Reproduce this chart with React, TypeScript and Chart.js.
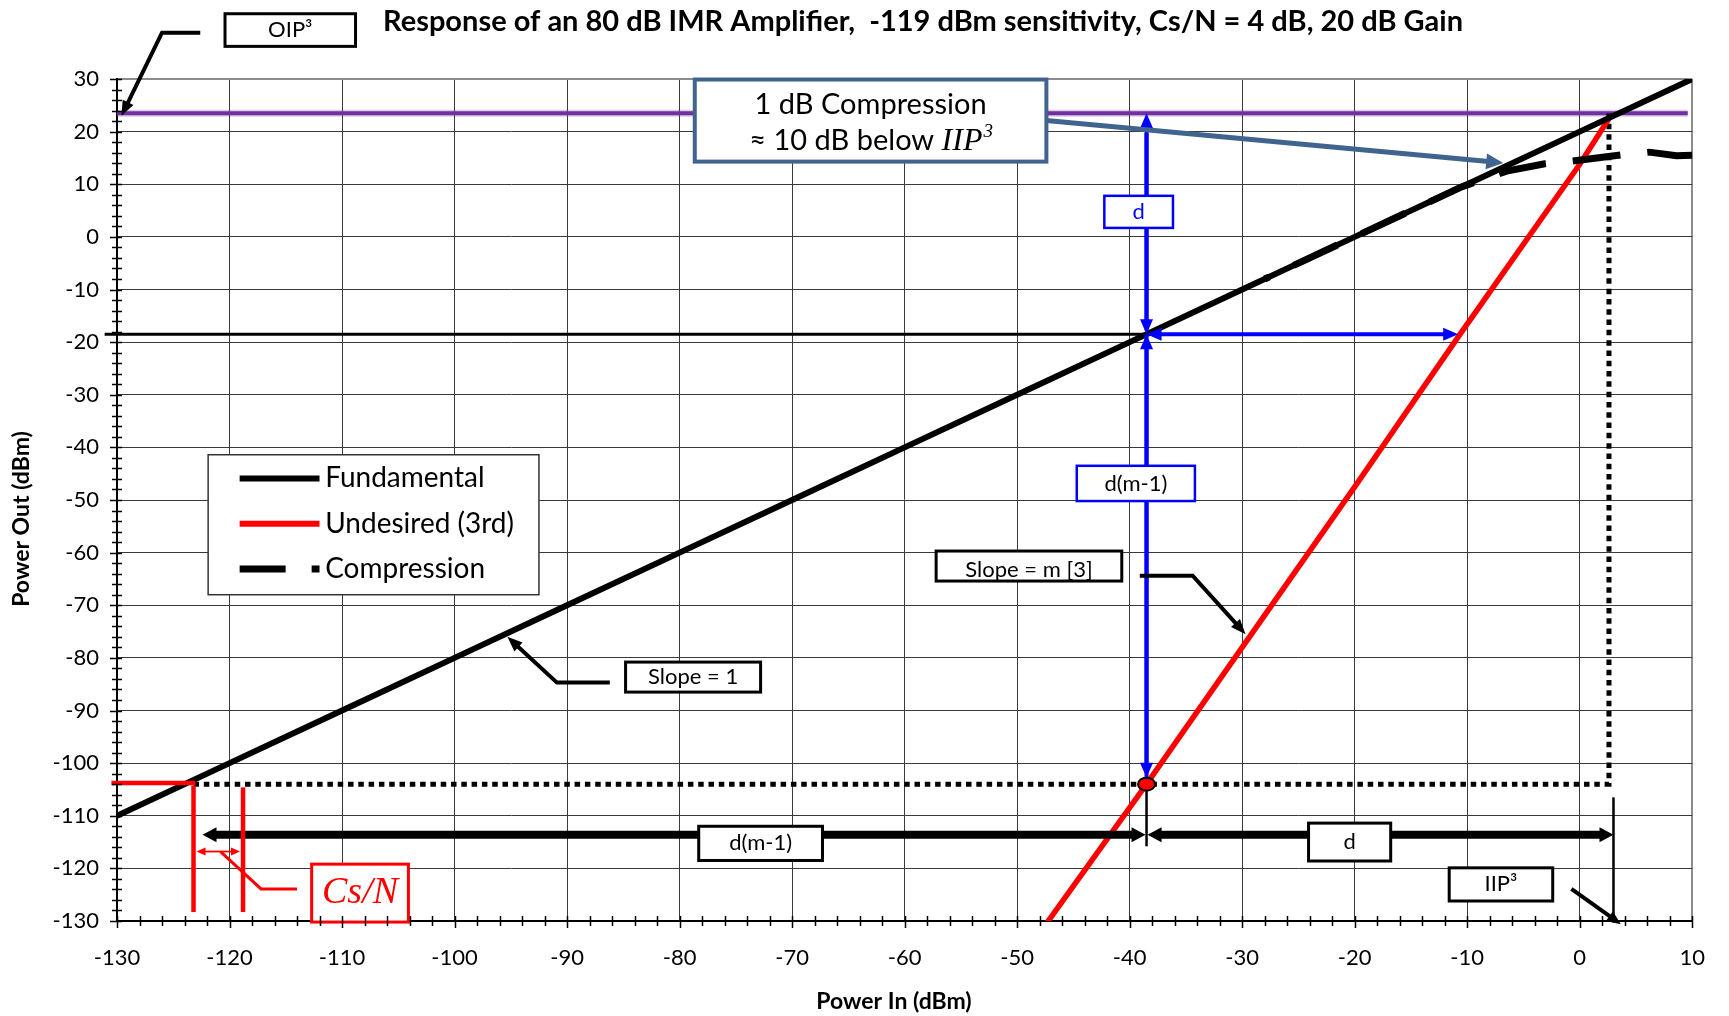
import React, { useEffect, useRef } from "react";
import { Chart, registerables } from "chart.js";

Chart.register(...registerables);

const SANS = "Lato, 'Open Sans', 'Noto Sans', sans-serif";
const SERIF = "'Liberation Serif', 'DejaVu Serif', serif";

// Axis tick values
const X_TICKS = [-130, -120, -110, -100, -90, -80, -70, -60, -50, -40, -30, -20, -10, 0, 10];
const Y_TICKS = [-130, -120, -110, -100, -90, -80, -70, -60, -50, -40, -30, -20, -10, 0, 10, 20, 30];

// Fundamental (slope 1, 20 dB gain)
const fundamentalIn = [-130, -120, -110, -100, -90, -80, -70, -60, -50, -40, -30, -20, -10, 0, 10];
const fundamentalOut = [-110, -100, -90, -80, -70, -60, -50, -40, -30, -20, -10, 0, 10, 20, 30];

// Undesired 3rd-order product
const undesiredIn = [-47.4, -38.5, -30, -20, -10.8, 0, 2.6];
const undesiredOut = [-130.5, -104, -78, -47.5, -19, 13.8, 22.5];

// Compression curve
const compressionIn = [-28, -20, -15, -10.5, -6.5, -3.1, -0.75, 3.8, 6.2, 8.6, 10];
const compressionOut = [-8, 0, 5, 9.5, 12.5, 13.9, 14.4, 15.6, 16.1, 15.4, 15.5];

// Reference levels
const OIP3_OUT = 23.5;
const IIP3_IN = 2.6;
const SENS_IN = -38.5;
const SENS_OUT = -104;
const FUND_REF_OUT = -18.5;
const NOISE_IN = -123.2;
const SENS_MIN_IN = -118.8;
const DIM_ROW = -113.6;

const TITLE = "Response of an 80 dB IMR Amplifier,  -119 dBm sensitivity, Cs/N = 4 dB, 20 dB Gain";

type Ctx = CanvasRenderingContext2D;

function head(ctx: Ctx, fx: number, fy: number, tx: number, ty: number, len: number, half: number, color: string) {
  const a = Math.atan2(ty - fy, tx - fx);
  const bx = tx - len * Math.cos(a);
  const by = ty - len * Math.sin(a);
  ctx.beginPath();
  ctx.moveTo(tx, ty);
  ctx.lineTo(bx + half * Math.sin(a), by - half * Math.cos(a));
  ctx.lineTo(bx - half * Math.sin(a), by + half * Math.cos(a));
  ctx.closePath();
  ctx.fillStyle = color;
  ctx.fill();
}

function poly(ctx: Ctx, pts: number[][], color: string, width: number, dash: number[] = [], cap: CanvasLineCap = "butt") {
  ctx.save();
  ctx.beginPath();
  pts.forEach((p, i) => (i ? ctx.lineTo(p[0], p[1]) : ctx.moveTo(p[0], p[1])));
  ctx.strokeStyle = color;
  ctx.lineWidth = width;
  ctx.setLineDash(dash);
  ctx.lineCap = cap;
  ctx.lineJoin = "miter";
  ctx.stroke();
  ctx.restore();
}

// polyline ending in an arrow head; the stroke stops short of the tip
function arrow(ctx: Ctx, pts: number[][], color: string, width: number, len: number, half: number, both = false) {
  const p = pts.map((q) => [...q]);
  const n = p.length;
  const [ax, ay] = p[n - 2];
  const [tx, ty] = p[n - 1];
  const d = Math.hypot(tx - ax, ty - ay);
  p[n - 1] = [tx - ((tx - ax) / d) * len * 0.7, ty - ((ty - ay) / d) * len * 0.7];
  let s0: number[] | null = null;
  if (both) {
    const [sx, sy] = p[0];
    const [nx, ny] = p[1];
    const d2 = Math.hypot(nx - sx, ny - sy);
    s0 = [sx, sy];
    p[0] = [sx + ((nx - sx) / d2) * len * 0.7, sy + ((ny - sy) / d2) * len * 0.7];
  }
  poly(ctx, p, color, width);
  head(ctx, ax, ay, tx, ty, len, half, color);
  if (both && s0) head(ctx, pts[1][0], pts[1][1], s0[0], s0[1], len, half, color);
}

function rect(ctx: Ctx, x1: number, y1: number, x2: number, y2: number, stroke: string, width: number) {
  ctx.save();
  ctx.fillStyle = "#ffffff";
  ctx.fillRect(Math.min(x1, x2), Math.min(y1, y2), Math.abs(x2 - x1), Math.abs(y2 - y1));
  ctx.strokeStyle = stroke;
  ctx.lineWidth = width;
  ctx.strokeRect(Math.min(x1, x2), Math.min(y1, y2), Math.abs(x2 - x1), Math.abs(y2 - y1));
  ctx.restore();
}

function text(ctx: Ctx, s: string, x: number, y: number, font: string, color: string, align: CanvasTextAlign = "center") {
  ctx.save();
  ctx.font = font;
  ctx.fillStyle = color;
  ctx.textAlign = align;
  ctx.textBaseline = "middle";
  ctx.fillText(s, x, y);
  ctx.restore();
}

// Labelled boxes, corners in data units
const labelBoxes = [
  { label: "OIP³", x1: -120.4, x2: -108.8, y1: 42.4, y2: 36.2, ty: 39.3, border: "#000000", ink: "#000000" },
  { label: "d", x1: -42.25, x2: -36.15, y1: 7.8, y2: 1.7, ty: 4.75, border: "#0000ff", ink: "#0000ff" },
  { label: "d(m-1)", x1: -44.7, x2: -34.2, y1: -43.5, y2: -50.2, ty: -46.9, border: "#0000ff", ink: "#000000" },
  { label: "Slope = m [3]", x1: -57.2, x2: -40.7, y1: -59.7, y2: -65.4, ty: -63.3, border: "#000000", ink: "#000000" },
  { label: "Slope = 1", x1: -84.8, x2: -72.8, y1: -80.8, y2: -86.5, ty: -83.6, border: "#000000", ink: "#000000" },
  { label: "d(m-1)", x1: -78.3, x2: -67.3, y1: -112.0, y2: -118.5, ty: -115.2, border: "#000000", ink: "#000000" },
  { label: "d", x1: -24.1, x2: -16.8, y1: -111.4, y2: -118.6, ty: -115.0, border: "#000000", ink: "#000000" },
  { label: "IIP³", x1: -11.6, x2: -2.4, y1: -119.9, y2: -126.2, ty: -123.0, border: "#000000", ink: "#000000" },
];

const imrPlugin = {
  id: "imrAnnotations",
  beforeDatasetsDraw(chart: any) {
    const { ctx } = chart;
    const X = (v: number) => chart.scales.x.getPixelForValue(v);
    const Y = (v: number) => chart.scales.y.getPixelForValue(v);

    // OIP3 level
    poly(ctx, [[X(-130), Y(OIP3_OUT)], [X(9.6), Y(OIP3_OUT)]], "rgba(112,48,160,0.25)", 7);
    poly(ctx, [[X(-130), Y(OIP3_OUT)], [X(9.6), Y(OIP3_OUT)]], "#7030a0", 4);

    // fundamental reference level
    poly(ctx, [[X(-131.1), Y(FUND_REF_OUT)], [X(SENS_IN), Y(FUND_REF_OUT)]], "#000000", 3);

    // sensitivity level and IIP3 drop line (dotted)
    poly(ctx, [[X(NOISE_IN), Y(SENS_OUT)], [X(IIP3_IN), Y(SENS_OUT)], [X(IIP3_IN), Y(OIP3_OUT)]], "#000000", 5, [5.5, 4.8]);

    // legend
    const lx1 = X(-121.9), lx2 = X(-92.5), ly1 = Y(-41.4), ly2 = Y(-68.0);
    ctx.save();
    ctx.fillStyle = "#fff";
    ctx.fillRect(lx1, ly1, lx2 - lx1, ly2 - ly1);
    ctx.strokeStyle = "#333";
    ctx.lineWidth = 1.5;
    ctx.strokeRect(lx1, ly1, lx2 - lx1, ly2 - ly1);
    ctx.restore();
    const rows = [-45.9, -54.5, -63.1];
    chart.data.datasets.forEach((ds: any, i: number) => {
      const ry = Y(rows[i]);
      poly(ctx, [[X(-119.1), ry], [X(-112.0), ry]], ds.borderColor, i === 2 ? 7 : 6, ds.borderDash ? [46, 26] : []);
      text(ctx, ds.label, X(-111.5), ry, `28px ${SANS}`, "#000", "left");
    });
  },
  afterDatasetsDraw(chart: any) {
    const { ctx } = chart;
    const X = (v: number) => chart.scales.x.getPixelForValue(v);
    const Y = (v: number) => chart.scales.y.getPixelForValue(v);
    const blue = "#0000ff";

    // d / d(m-1) construction in blue
    arrow(ctx, [[X(SENS_IN), Y(FUND_REF_OUT) - 4], [X(SENS_IN), Y(OIP3_OUT)]], blue, 4, 15, 6.5);
    arrow(ctx, [[X(SENS_IN), Y(OIP3_OUT) + 20], [X(SENS_IN), Y(FUND_REF_OUT)]], blue, 4, 15, 6.5);
    arrow(ctx, [[X(SENS_IN), Y(SENS_OUT)], [X(SENS_IN), Y(FUND_REF_OUT)]], blue, 4, 15, 6.5);
    arrow(ctx, [[X(SENS_IN), Y(FUND_REF_OUT)], [X(SENS_IN), Y(-102.8)]], blue, 4, 15, 6.5);
    arrow(ctx, [[X(SENS_IN), Y(FUND_REF_OUT)], [X(-10.8), Y(FUND_REF_OUT)]], blue, 4, 15, 6.5, true);

    // dimension row
    poly(ctx, [[X(SENS_IN), Y(-105.2)], [X(SENS_IN), Y(-115.8)]], "#000", 2.5);
    poly(ctx, [[X(3.0), Y(-106.5)], [X(3.0), Y(-130.3)]], "#000", 2.5);
    arrow(ctx, [[X(-122.4), Y(DIM_ROW)], [X(SENS_IN) - 1, Y(DIM_ROW)]], "#000", 8, 14, 7.5, true);
    arrow(ctx, [[X(SENS_IN) + 1, Y(DIM_ROW)], [X(3.0), Y(DIM_ROW)]], "#000", 8, 14, 7.5, true);

    // carrier-to-noise markers
    const red = "#ff0000";
    poly(ctx, [[X(-130.5), Y(-103.8)], [X(NOISE_IN) + 2, Y(-103.8)]], red, 4.5);
    poly(ctx, [[X(NOISE_IN), Y(-104.3)], [X(NOISE_IN), Y(-128.3)]], red, 4.5);
    poly(ctx, [[X(SENS_MIN_IN), Y(-104.6)], [X(SENS_MIN_IN), Y(-128.3)]], red, 4.5);
    arrow(ctx, [[X(NOISE_IN) + 3, Y(-116.8)], [X(SENS_MIN_IN) - 3, Y(-116.8)]], red, 1.8, 9, 4, true);
    poly(ctx, [[X(-120.8), Y(-116.8)], [X(-117.2), Y(-123.9)], [X(-114.0), Y(-123.9)]], red, 3);
    rect(ctx, X(-112.7), Y(-119.2), X(-104.1), Y(-130.2), red, 3);
    text(ctx, "Cs/N", (X(-112.7) + X(-104.1)) / 2, Y(-124.6), `italic 38px ${SERIF}`, red);

    // sensitivity point
    ctx.save();
    ctx.beginPath();
    ctx.ellipse(X(SENS_IN), Y(SENS_OUT), 8.5, 6.5, 0, 0, Math.PI * 2);
    ctx.fillStyle = "#ff0000";
    ctx.fill();
    ctx.strokeStyle = "#000";
    ctx.lineWidth = 2;
    ctx.stroke();
    ctx.restore();

    // leaders
    arrow(ctx, [[X(-122.6), Y(38.8)], [X(-126.0), Y(38.8)], [X(-129.6), Y(23.0)]], "#000", 4, 15, 6);
    arrow(ctx, [[X(-86.2), Y(-84.7)], [X(-90.9), Y(-84.7)], [X(-95.3), Y(-76.0)]], "#000", 4, 15, 6);
    arrow(ctx, [[X(-39.1), Y(-64.4)], [X(-34.4), Y(-64.4)], [X(-29.7), Y(-75.5)]], "#000", 4, 15, 6);
    arrow(ctx, [[X(-0.74), Y(-123.9)], [X(3.65), Y(-130.6)]], "#000", 4, 14, 6);
    arrow(ctx, [[X(-47.4), Y(22.1)], [X(-6.8), Y(14.05)]], "#41648f", 5, 17, 8);

    // labelled boxes
    labelBoxes.forEach((b) => {
      rect(ctx, X(b.x1), Y(b.y1), X(b.x2), Y(b.y2), b.border, b.border === "#000000" ? 3 : 2.5);
      text(ctx, b.label, (X(b.x1) + X(b.x2)) / 2, Y(b.ty), `22px ${SANS}`, b.ink);
    });

    // 1 dB compression note
    const bx1 = X(-78.65), bx2 = X(-47.4);
    rect(ctx, bx1, Y(29.9), bx2, Y(14.3), "#41648f", 4);
    const cx = (bx1 + bx2) / 2;
    text(ctx, "1 dB Compression", cx, Y(25.2), `29px ${SANS}`, "#000");
    ctx.save();
    const partA = "≈ 10 dB below ";
    const partB = "IIP";
    const partC = "3";
    const fA = `29px ${SANS}`;
    const fB = `italic 32px ${SERIF}`;
    const fC = `italic 19px ${SERIF}`;
    ctx.font = fA;
    const wA = ctx.measureText(partA).width;
    ctx.font = fB;
    const wB = ctx.measureText(partB).width;
    ctx.font = fC;
    const wC = ctx.measureText(partC).width;
    let sx = cx - (wA + wB + wC) / 2;
    const ly = Y(18.3);
    text(ctx, partA, sx, ly, fA, "#000", "left");
    sx += wA;
    text(ctx, partB, sx, ly + 1, fB, "#000", "left");
    sx += wB + 1;
    text(ctx, partC, sx, ly - 9, fC, "#000", "left");
    ctx.restore();
  },
  afterDraw(chart: any) {
    const { ctx, chartArea } = chart;
    const X = (v: number) => chart.scales.x.getPixelForValue(v);
    const Y = (v: number) => chart.scales.y.getPixelForValue(v);
    // minor and major tick marks crossing the axes
    ctx.save();
    ctx.strokeStyle = "#000";
    ctx.lineWidth = 1.5;
    ctx.beginPath();
    for (let v = -130; v <= 30; v += 2) {
      const major = v % 10 === 0;
      const yy = Math.round(Y(v)) + 0.5;
      ctx.moveTo(chartArea.left - (major ? 7 : 5), yy);
      ctx.lineTo(chartArea.left + 5, yy);
    }
    for (let v = -130; v <= 10; v += 2) {
      const major = v % 10 === 0;
      const xx = Math.round(X(v)) + 0.5;
      ctx.moveTo(xx, chartArea.bottom + (major ? 7 : 5));
      ctx.lineTo(xx, chartArea.bottom - 5);
    }
    ctx.stroke();
    ctx.restore();

    text(ctx, TITLE, 923, 22, `bold 29px ${SANS}`, "#000");
    text(ctx, "Power In (dBm)", 894, 1002, `bold 23px ${SANS}`, "#000");
    ctx.save();
    ctx.translate(22, 519);
    ctx.rotate(-Math.PI / 2);
    text(ctx, "Power Out (dBm)", 0, 0, `bold 23px ${SANS}`, "#000");
    ctx.restore();
  },
};

function pts(xs: number[], ys: number[]) {
  return xs.map((x, i) => ({ x, y: ys[i] }));
}

export default function App() {
  const ref = useRef<HTMLCanvasElement>(null);
  useEffect(() => {
    if (!ref.current) return;
    const chart = new Chart(ref.current, {
      type: "scatter",
      data: {
        datasets: [
          { label: "Fundamental", data: pts(fundamentalIn, fundamentalOut), borderColor: "#000000", borderWidth: 6, showLine: true, pointRadius: 0, order: 1 },
          { label: "Undesired (3rd)", data: pts(undesiredIn, undesiredOut), borderColor: "#ff0000", borderWidth: 5.5, showLine: true, pointRadius: 0, order: 2 },
          { label: "Compression", data: pts(compressionIn, compressionOut), borderColor: "#000000", borderWidth: 7, borderDash: [48, 27], borderDashOffset: 42.9, showLine: true, pointRadius: 0, order: 0 },
        ],
      } as any,
      options: {
        animation: false,
        responsive: false,
        devicePixelRatio: 1,
        layout: { padding: { top: 79, right: 31, left: 0, bottom: 0 } },
        plugins: { legend: { display: false }, title: { display: false }, tooltip: { enabled: false } },
        elements: { line: { tension: 0, borderCapStyle: "butt" } },
        scales: {
          x: {
            type: "linear",
            min: -130,
            max: 10,
            afterBuildTicks: (s: any) => {
              s.ticks = X_TICKS.map((value) => ({ value }));
            },
            afterFit: (s: any) => {
              s.height = 95;
            },
            grid: {
              color: (c: any) => (c.tick && c.tick.value === 10 ? "#8c8c8c" : "#3a3a3a"),
              lineWidth: (c: any) => (c.tick && c.tick.value === 10 ? 2 : 1),
              drawTicks: false,
            },
            border: { color: "#000", width: 2 },
            ticks: { font: { family: SANS, size: 22 }, color: "#000", padding: 24, maxRotation: 0, autoSkip: false },
          },
          y: {
            type: "linear",
            min: -130,
            max: 30,
            afterBuildTicks: (s: any) => {
              s.ticks = Y_TICKS.map((value) => ({ value }));
            },
            afterFit: (s: any) => {
              s.width = 117;
            },
            grid: {
              color: (c: any) => (c.tick && c.tick.value === 30 ? "#8c8c8c" : "#3a3a3a"),
              lineWidth: (c: any) => (c.tick && c.tick.value === 30 ? 2 : 1),
              drawTicks: false,
            },
            border: { color: "#000", width: 2 },
            ticks: { font: { family: SANS, size: 22 }, color: "#000", padding: 18, autoSkip: false },
          },
        },
      } as any,
      plugins: [imrPlugin],
    });
    return () => chart.destroy();
  }, []);
  return (
    <div style={{ position: "absolute", left: 0, top: 0, width: 1729, height: 1016, background: "#fff" }}>
      <canvas ref={ref} width={1729} height={1016} style={{ display: "block" }} />
    </div>
  );
}
